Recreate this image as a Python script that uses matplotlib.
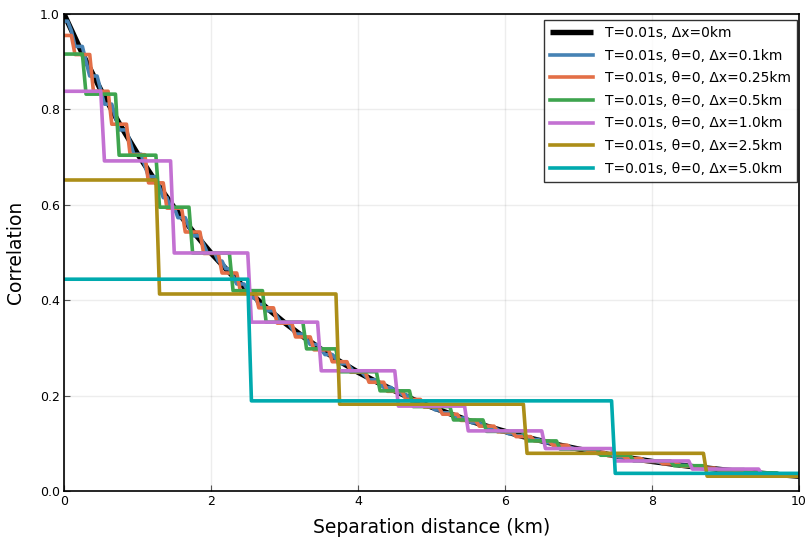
import numpy as np
import matplotlib
matplotlib.use("Agg")
import matplotlib.pyplot as plt

# Reference correlation model (no spatial averaging), sampled every 0.25 km
ref_dist_step = 0.25
ref_corr = [1.000, 0.917, 0.841, 0.771, 0.707, 0.648, 0.594, 0.545, 0.499,
            0.458, 0.420, 0.385, 0.353, 0.324, 0.297, 0.272, 0.249, 0.229,
            0.210, 0.192, 0.176, 0.162, 0.148, 0.136, 0.125, 0.114, 0.105,
            0.096, 0.088, 0.081, 0.074, 0.068, 0.062, 0.057, 0.052, 0.048,
            0.044, 0.040, 0.037, 0.034, 0.031]

# Cell-averaged correlation, one level per grid cell centred on k*dx
levels_01 = [0.985, 0.965, 0.932, 0.900, 0.870, 0.840, 0.811, 0.784, 0.757,
             0.731, 0.706, 0.682, 0.659, 0.636, 0.615, 0.594, 0.573, 0.554,
             0.535, 0.517, 0.499, 0.482, 0.466, 0.450, 0.434, 0.420, 0.405,
             0.391, 0.378, 0.365, 0.353, 0.341, 0.329, 0.318, 0.307, 0.297,
             0.286, 0.277, 0.267, 0.258, 0.249, 0.241, 0.233, 0.225, 0.217,
             0.210, 0.202, 0.196, 0.189, 0.182, 0.176, 0.170, 0.164, 0.159,
             0.153, 0.148, 0.143, 0.138, 0.133, 0.129, 0.124, 0.120, 0.116,
             0.112, 0.108, 0.105, 0.101, 0.098, 0.094, 0.091, 0.088, 0.085,
             0.082, 0.079, 0.077, 0.074, 0.071, 0.069, 0.067, 0.064, 0.062,
             0.060, 0.058, 0.056, 0.054, 0.052, 0.050, 0.049, 0.047, 0.045,
             0.044, 0.042, 0.041, 0.040, 0.038, 0.037, 0.036, 0.034, 0.033,
             0.032, 0.031]
levels_025 = [0.955, 0.915, 0.838, 0.769, 0.705, 0.646, 0.593, 0.543, 0.498,
              0.457, 0.419, 0.384, 0.352, 0.323, 0.296, 0.271, 0.249, 0.228,
              0.209, 0.192, 0.176, 0.161, 0.148, 0.136, 0.124, 0.114, 0.105,
              0.096, 0.088, 0.081, 0.074, 0.068, 0.062, 0.057, 0.052, 0.048,
              0.044, 0.040, 0.037, 0.034, 0.031]
levels_05 = [0.916, 0.832, 0.704, 0.595, 0.499, 0.420, 0.354, 0.298, 0.250,
             0.210, 0.177, 0.149, 0.125, 0.105, 0.088, 0.075, 0.063, 0.053,
             0.045, 0.038, 0.032]
levels_10 = [0.838, 0.692, 0.499, 0.354, 0.252, 0.178, 0.126, 0.089, 0.063,
             0.046, 0.033]
levels_25 = [0.652, 0.413, 0.182, 0.079, 0.031]
levels_50 = [0.444, 0.189, 0.037]

cell_sizes = [0.1, 0.25, 0.5, 1.0, 2.5, 5.0]
cell_levels = [levels_01, levels_025, levels_05, levels_10, levels_25, levels_50]
labels = ["T=0.01s, θ=0, Δx=0.1km", "T=0.01s, θ=0, Δx=0.25km",
          "T=0.01s, θ=0, Δx=0.5km", "T=0.01s, θ=0, Δx=1.0km",
          "T=0.01s, θ=0, Δx=2.5km", "T=0.01s, θ=0, Δx=5.0km"]
colors = ["#4682B4", "#E36F47", "#3EA44E", "#C371D2", "#AC8E18", "#00AAAE"]

# separation distances the stepped curves are evaluated on
x_eval = np.arange(0, 10.0001, 0.05)

fig = plt.figure(figsize=(8.11, 5.43), dpi=100)
ax = fig.add_axes([64 / 811, 1 - 491 / 543, 735 / 811, 477 / 543])

ref_x = np.arange(len(ref_corr)) * ref_dist_step
ax.plot(ref_x, ref_corr, color="black", lw=3.9, label="T=0.01s, Δx=0km",
        solid_capstyle="butt")

for dx, lev, lab, col in zip(cell_sizes, cell_levels, labels, colors):
    idx = np.round(x_eval / dx).astype(int)
    idx = np.clip(idx, 0, len(lev) - 1)
    ax.plot(x_eval, np.asarray(lev)[idx], color=col, lw=2.6, label=lab)

ax.set_xlim(0, 10)
ax.set_ylim(0, 1)
ax.set_xticks(np.arange(0, 11, 2))
ax.set_yticks(np.arange(0, 1.01, 0.2))
ax.set_yticklabels([f"{v:.1f}" for v in np.arange(0, 1.01, 0.2)])
ax.grid(True, color="black", alpha=0.07, lw=1)
ax.tick_params(direction="in", length=4, width=0.8, labelsize=9,
               color="#555555", pad=3)
for sp in ax.spines.values():
    sp.set_linewidth(1.2)

ax.set_xlabel("Separation distance (km)", fontsize=13.5, labelpad=7)
ax.set_ylabel("Correlation", fontsize=13.5, labelpad=11)

leg = ax.legend(loc="upper right", bbox_to_anchor=(0.997, 0.988), fontsize=10,
                frameon=True, fancybox=False, edgecolor="black",
                handlelength=3.1, labelspacing=0.62, borderpad=0.45,
                handletextpad=0.8, borderaxespad=0)
leg.get_frame().set_linewidth(1.0)

fig.savefig("out.png", dpi=100)
